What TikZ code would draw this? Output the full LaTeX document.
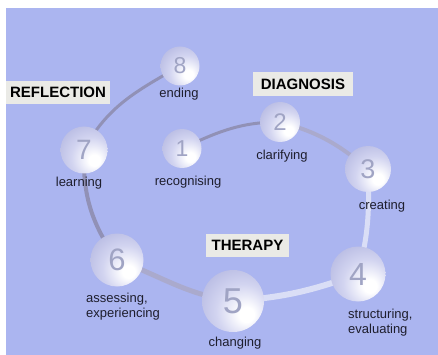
\documentclass[tikz,border=0pt]{standalone}
\usepackage{fontspec}
\setmainfont{Liberation Sans}
\definecolor{bgblue}{RGB}{171,181,240}
\definecolor{trackdark}{RGB}{145,145,182}
\definecolor{trackmid}{RGB}{170,170,205}
\definecolor{tracklight}{RGB}{218,222,246}
\definecolor{sphedge}{RGB}{150,155,210}
\definecolor{sphmid}{RGB}{210,212,240}
\definecolor{digitcol}{RGB}{160,164,196}
\definecolor{headfill}{RGB}{234,234,230}
\definecolor{labelcol}{RGB}{30,30,45}
\pgfdeclareradialshading{sphshade}{\pgfqpoint{12bp}{-12bp}}{color(0bp)=(white);color(6bp)=(white);color(22bp)=(sphmid);color(45bp)=(sphedge!70!sphmid);color(62bp)=(sphedge);color(70bp)=(sphedge)}
\pgfdeclarelayer{bglayer}
\pgfdeclarelayer{tracklayer}
\pgfsetlayers{bglayer,tracklayer,main}
\tikzset{
  sphere/.style={circle, inner sep=0pt, shading=sphshade, text=digitcol},
  track/.style={line cap=round},
  lbl/.style={text=labelcol, font=\fontsize{13}{15}\selectfont, inner sep=0pt},
  head/.style={fill=headfill, text=black, font=\fontsize{15}{17}\selectfont\bfseries, inner sep=0pt}
}
\begin{document}
\begin{tikzpicture}[x=1pt,y=-1pt]
\useasboundingbox (0,0) rectangle (438,355);
\begin{pgfonlayer}{bglayer}
\fill[white] (0,0) rectangle (438,355);
\fill[bgblue] (6,8) rectangle (438,355);
\end{pgfonlayer}
% spheres
\node[sphere, minimum size=39pt, font=\fontsize{23}{23}\selectfont] (s8) at (180,66) {8};
\node[sphere, minimum size=47pt, font=\fontsize{28}{28}\selectfont] (s7) at (84,150) {7};
\node[sphere, minimum size=39pt, font=\fontsize{23}{23}\selectfont] (s1) at (182,148.5) {1};
\node[sphere, minimum size=40pt, font=\fontsize{24}{24}\selectfont] (s2) at (280,122) {2};
\node[sphere, minimum size=46pt, font=\fontsize{27}{27}\selectfont] (s3) at (368,169) {3};
\node[sphere, minimum size=55pt, font=\fontsize{32}{32}\selectfont] (s4) at (358,274) {4};
\node[sphere, minimum size=62pt, font=\fontsize{36}{36}\selectfont] (s5) at (233,301) {5};
\node[sphere, minimum size=53pt, font=\fontsize{31}{31}\selectfont] (s6) at (117,260) {6};
% track
\begin{pgfonlayer}{tracklayer}
\draw[track, trackdark, line width=3pt] (s8.center) to[out=210,in=62] (s7.center);
\draw[track, trackdark, line width=4pt] (s7.center) to[out=268,in=125] (s6.center);
\draw[track, trackmid, line width=5pt] (s6.center) to[out=-20,in=172] (s5.center);
\draw[track, tracklight, line width=6pt] (s5.center) to[out=4,in=200] (s4.center);
\draw[track, tracklight, line width=5pt] (s4.center) to[out=75,in=-88] (s3.center);
\draw[track, trackmid, line width=4pt] (s3.center) to[out=140,in=-15] (s2.center);
\draw[track, trackdark, line width=3pt] (s2.center) to[out=180,in=25] (s1.center);
\end{pgfonlayer}
% labels
\node[lbl] (l8) at (179,94) {ending};
\node[lbl] (l7) at (79,183) {learning};
\node[lbl] (l1) at (188,182) {recognising};
\node[lbl] (l2) at (282,156) {clarifying};
\node[lbl] (l3) at (382,206) {creating};
\node[lbl, align=left, anchor=north west] (l6) at (86,293) {assessing,\\experiencing};
\node[lbl] (l5) at (235,343) {changing};
\node[lbl, align=left, anchor=north west] (l4) at (348,309) {structuring,\\evaluating};
% headings
\node[head, minimum width=104pt, minimum height=23pt] (hrefl) at (58,92.5) {REFLECTION};
\node[head, minimum width=100pt, minimum height=24pt] (hdiag) at (303,84) {DIAGNOSIS};
\node[head, minimum width=83pt, minimum height=23pt] (hther) at (247.5,245.5) {THERAPY};
\end{tikzpicture}
\end{document}
